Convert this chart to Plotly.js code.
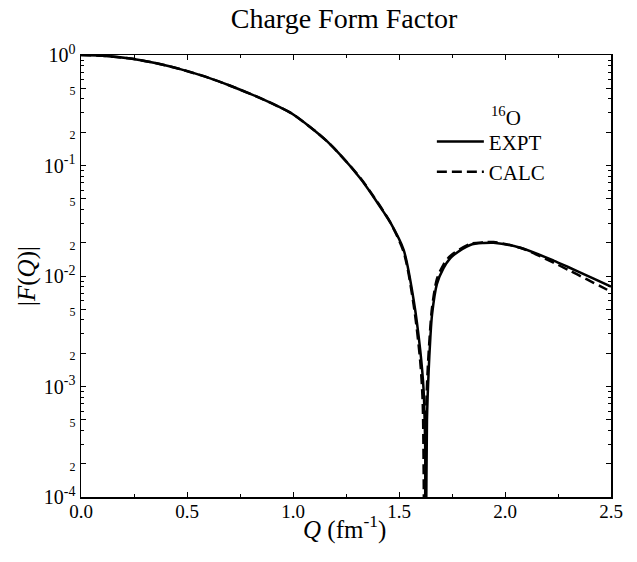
<!DOCTYPE html>
<html>
<head>
<meta charset="utf-8">
<script src="https://cdn.plot.ly/plotly-3.0.1.min.js"></script>
<style>html,body{margin:0;padding:0;background:#fff;}#chart{width:637px;height:562px;}</style>
</head>
<body>
<div id="chart"></div>
<script>
// EXPT (solid)
var qExpt = [0, 0.1, 0.233, 0.35, 0.468, 0.6, 0.704, 0.846, 0.94, 1.003, 1.16, 1.317, 1.38, 1.427, 1.459, 1.522, 1.569, 1.600, 1.616, 1.624, 1.627, 1.632, 1.640, 1.648, 1.656, 1.679, 1.710, 1.742, 1.758, 1.836, 1.9, 1.946, 2.072, 2.229, 2.3, 2.387, 2.449, 2.5];
var fExpt = [1.0, 0.986, 0.929, 0.847, 0.745, 0.624, 0.527, 0.407, 0.335, 0.288, 0.166, 0.0767, 0.0519, 0.038, 0.0305, 0.0172, 0.00607, 0.00214, 0.00093, 0.00025, 0.00003, 0.0005, 0.0014, 0.0028, 0.0045, 0.0085, 0.0118, 0.0145, 0.0155, 0.0191, 0.0199, 0.0200, 0.0180, 0.0138, 0.0120, 0.0101, 0.0089, 0.0080];
// CALC (dashed)
var qCalc = [0, 0.1, 0.233, 0.35, 0.468, 0.6, 0.704, 0.846, 0.94, 1.003, 1.16, 1.317, 1.38, 1.427, 1.459, 1.522, 1.569, 1.600, 1.612, 1.620, 1.628, 1.636, 1.648, 1.656, 1.679, 1.710, 1.742, 1.836, 1.9, 1.946, 2.072, 2.229, 2.3, 2.387, 2.449, 2.5];
var fCalc = [1.0, 0.986, 0.929, 0.847, 0.745, 0.624, 0.527, 0.407, 0.335, 0.288, 0.166, 0.0775, 0.0525, 0.0385, 0.0305, 0.0165, 0.0055, 0.0017, 0.0007, 0.00003, 0.0006, 0.0015, 0.0035, 0.0052, 0.0094, 0.0127, 0.0152, 0.0195, 0.0202, 0.0203, 0.0180, 0.0132, 0.0113, 0.0093, 0.0081, 0.0072];

var xTickVals = [0, 0.5, 1.0, 1.5, 2.0, 2.5];
var xTickText = ['0.0', '0.5', '1.0', '1.5', '2.0', '2.5'];
var xMinorVals = [0.25, 0.75, 1.25, 1.75, 2.25];
var yTickVals = [1e-4, 2e-4, 5e-4, 1e-3, 2e-3, 5e-3, 1e-2, 2e-2, 5e-2, 1e-1, 2e-1, 5e-1, 1];
var yTickText = ['10<sup>-4</sup>', '2', '5', '10<sup>-3</sup>', '2', '5', '10<sup>-2</sup>', '2', '5', '10<sup>-1</sup>', '2', '5', '10<sup>0</sup>'];
var yMinorVals = [3e-4,4e-4,6e-4,7e-4,8e-4,9e-4, 3e-3,4e-3,6e-3,7e-3,8e-3,9e-3, 3e-2,4e-2,6e-2,7e-2,8e-2,9e-2, 3e-1,4e-1,6e-1,7e-1,8e-1,9e-1];

var serif = '"Liberation Serif", "Times New Roman", serif';
var yText = yTickText.map(function(t){ return t.indexOf('10') === 0 ? t : '<span style="font-size:12px">' + t + '</span>'; });

var traces = [
  {x: qExpt, y: fExpt, type: 'scatter', mode: 'lines', name: 'EXPT',
   line: {color: '#000', width: 2.5, shape: 'spline', smoothing: 0.8}},
  {x: qCalc, y: fCalc, type: 'scatter', mode: 'lines', name: 'CALC',
   line: {color: '#000', width: 2.5, dash: '10px,5px', shape: 'spline', smoothing: 0.8}}
];

var layout = {
  width: 637, height: 562,
  margin: {l: 81, r: 26, t: 55, b: 65},
  paper_bgcolor: '#fff', plot_bgcolor: '#fff',
  font: {family: serif, color: '#000', size: 16},
  title: {text: 'Charge Form Factor', font: {family: serif, size: 28, color: '#000'},
          x: (344 - 81) / 530, xref: 'paper', xanchor: 'center', y: 1 - 18/562, yref: 'container', yanchor: 'middle'},
  showlegend: true,
  legend: {x: 0.662, y: 0.85, xanchor: 'left', yanchor: 'top', bgcolor: 'rgba(0,0,0,0)',
           font: {family: serif, size: 21, color: '#000'}, itemwidth: 47, tracegroupgap: 0},
  annotations: [
    {text: '<sup>16</sup>O', xref: 'paper', yref: 'paper', x: 0.770, y: 0.860,
     xanchor: 'left', yanchor: 'middle', showarrow: false,
     font: {family: serif, size: 21, color: '#000'}},
    {text: '<i>Q</i> (fm<sup>-1</sup>)', xref: 'paper', yref: 'paper', x: (344.5 - 81) / 530, y: -0.07,
     xanchor: 'center', yanchor: 'middle', showarrow: false,
     font: {family: serif, size: 25, color: '#000'}},
    {text: '|<i>F</i>(<i>Q</i>)|', xref: 'paper', yref: 'paper', x: (27 - 81) / 530, y: 0.5,
     xanchor: 'center', yanchor: 'middle', showarrow: false, textangle: -90,
     font: {family: serif, size: 25, color: '#000'}}
  ],
  xaxis: {
    range: [0, 2.5], tickmode: 'array', tickvals: xTickVals, ticktext: xTickText,
    ticks: 'inside', ticklen: 5, tickwidth: 1, tickcolor: '#000', ticklabelstandoff: -3,
    minor: {tickmode: 'array', tickvals: xMinorVals, ticks: 'inside', ticklen: 3, tickwidth: 1, tickcolor: '#000'},
    showline: true, linecolor: '#000', linewidth: 1.5, mirror: 'ticks',
    showgrid: false, zeroline: false,
    tickfont: {family: serif, size: 19, color: '#000'}
  },
  yaxis: {
    type: 'log', range: [-4, 0], tickmode: 'array', tickvals: yTickVals, ticktext: yText,
    ticks: 'inside', ticklen: 5, tickwidth: 1, tickcolor: '#000',
    minor: {tickmode: 'array', tickvals: yMinorVals, ticks: 'inside', ticklen: 3, tickwidth: 1, tickcolor: '#000'},
    showline: true, linecolor: '#000', linewidth: 1.5, mirror: 'ticks',
    showgrid: false, zeroline: false,
    tickfont: {family: serif, size: 20, color: '#000'}
  }
};

Plotly.newPlot('chart', traces, layout, {staticPlot: true, displayModeBar: false});
</script>
</body>
</html>
